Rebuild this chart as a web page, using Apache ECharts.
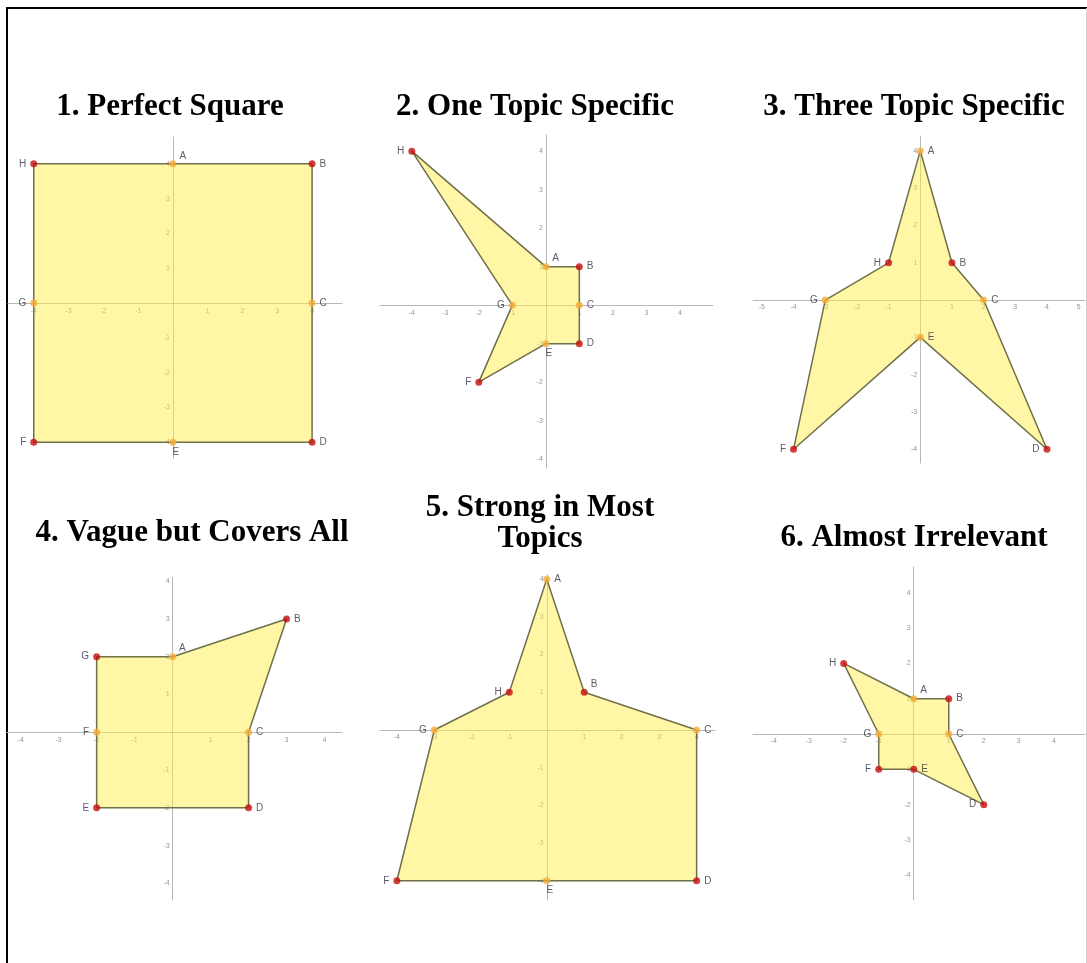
<!DOCTYPE html>
<html>
<head>
<meta charset="utf-8">
<script src="https://cdn.jsdelivr.net/npm/echarts@6/dist/echarts.min.js"></script>
<style>html,body{margin:0;padding:0;background:#fff;}#c{width:1087px;height:963px;}</style>
</head>
<body>
<div id="c"></div>
<script>
// ---------- DATA ----------
const titles = ['1. Perfect Square', '2. One Topic Specific', '3. Three Topic Specific',
  '4. Vague but Covers All', '5. Strong in Most\nTopics', '6. Almost Irrelevant'];

const names8 = ['A', 'B', 'C', 'D', 'E', 'F', 'G', 'H'];
const names7 = ['A', 'B', 'C', 'D', 'E', 'F', 'G'];

const p1X = [0, 4, 4, 4, 0, -4, -4, -4];
const p1Y = [4, 4, 0, -4, -4, -4, 0, 4];
const p1OnAxis = ['A', 'C', 'E', 'G'];

const p2X = [0, 1, 1, 1, 0, -2, -1, -4];
const p2Y = [1, 1, 0, -1, -1, -2, 0, 4];
const p2OnAxis = ['A', 'C', 'E', 'G'];

const p3X = [0, 1, 2, 4, 0, -4, -3, -1];
const p3Y = [4, 1, 0, -4, -1, -4, 0, 1];
const p3OnAxis = ['A', 'C', 'E', 'G'];

const p4X = [0, 3, 2, 2, -2, -2, -2];
const p4Y = [2, 3, 0, -2, -2, 0, 2];
const p4OnAxis = ['A', 'C', 'F'];

const p5X = [0, 1, 4, 4, 0, -4, -3, -1];
const p5Y = [4, 1, 0, -4, -4, -4, 0, 1];
const p5OnAxis = ['A', 'C', 'E', 'G'];

const p6X = [0, 1, 1, 2, 0, -1, -1, -2];
const p6Y = [1, 1, 0, -2, -1, -1, 0, 2];
const p6OnAxis = ['A', 'C', 'G'];

const xTicks4 = [-4, -3, -2, -1, 1, 2, 3, 4];
const xTicks5 = [-5, -4, -3, -2, -1, 1, 2, 3, 4, 5];
const yTicks4 = [-4, -3, -2, -1, 1, 2, 3, 4];

// visible axis ranges of each panel
const xRanges = [[-4.74, 4.86], [-4.95, 4.99], [-5.28, 5.20], [-4.36, 4.46], [-4.45, 4.49], [-4.59, 4.89]];
const yRanges = [[-4.45, 4.77], [-4.23, 4.42], [-4.37, 4.40], [-4.44, 4.11], [-4.51, 4.11], [-4.70, 4.73]];

// ---------- LAYOUT / STYLE ----------
const grids = [
  {left: 8, top: 137, width: 334, height: 321},
  {left: 380, top: 135, width: 333, height: 333},
  {left: 753, top: 136, width: 332, height: 327},
  {left: 7, top: 577, width: 335, height: 323},
  {left: 380, top: 575, width: 335, height: 325},
  {left: 753, top: 567, width: 332, height: 333}
].map(g => Object.assign(g, {containLabel: false, outerBoundsMode: 'none'}));
const titlePos = [[170, 107], [535, 107], [914, 107], [192, 533], [540, 523], [914, 538]];
const labelPos = [
  {A: 'ur', B: 'r', C: 'r', D: 'r', E: 'b', F: 'l', G: 'l', H: 'l'},
  {A: 'ur', B: 'r', C: 'r', D: 'r', E: 'b', F: 'l', G: 'l', H: 'l'},
  {A: 'r', B: 'r', C: 'r', D: 'l', E: 'r', F: 'l', G: 'l', H: 'l'},
  {A: 'ur', B: 'r', C: 'r', D: 'r', E: 'l', F: 'l', G: 'l'},
  {A: 'r', B: 'ur', C: 'r', D: 'r', E: 'b', F: 'l', G: 'l', H: 'l'},
  {A: 'ur', B: 'r', C: 'r', D: 'l', E: 'r', F: 'l', G: 'l', H: 'l'}
];

const panels = [
  {names: names8, xs: p1X, ys: p1Y, onAxis: p1OnAxis, xt: xTicks4},
  {names: names8, xs: p2X, ys: p2Y, onAxis: p2OnAxis, xt: xTicks5},
  {names: names8, xs: p3X, ys: p3Y, onAxis: p3OnAxis, xt: xTicks5},
  {names: names7, xs: p4X, ys: p4Y, onAxis: p4OnAxis, xt: xTicks4},
  {names: names8, xs: p5X, ys: p5Y, onAxis: p5OnAxis, xt: xTicks4},
  {names: names8, xs: p6X, ys: p6Y, onAxis: p6OnAxis, xt: xTicks4}
];

function labelFor(code) {
  const base = {show: true, fontSize: 10, color: '#333344', fontFamily: 'Liberation Sans'};
  if (code === 'r') return Object.assign(base, {position: 'right', distance: 4});
  if (code === 'l') return Object.assign(base, {position: 'left', distance: 4});
  if (code === 'ur') return Object.assign(base, {position: 'right', distance: 3, offset: [0, -8]});
  if (code === 'b') return Object.assign(base, {position: 'bottom', distance: 1, offset: [3, 0]});
  return base;
}

const tickLabelStyle = {show: true, fontSize: 7, color: '#7a7a7a', fontFamily: 'Liberation Sans'};

const xAxes = [], yAxes = [], series = [], graphics = [];
panels.forEach((p, i) => {
  const axisCommon = {
    type: 'value',
    gridIndex: i,
    axisLine: {show: true, onZero: true, lineStyle: {color: '#b8b8b8', width: 1}},
    axisTick: {show: false},
    axisLabel: {show: false},
    splitLine: {show: false}
  };
  xAxes.push(Object.assign({}, axisCommon, {min: xRanges[i][0], max: xRanges[i][1]}));
  yAxes.push(Object.assign({}, axisCommon, {min: yRanges[i][0], max: yRanges[i][1]}));

  // tick labels placed along the axes through the axis scales
  series.push({
    type: 'scatter',
    xAxisIndex: i, yAxisIndex: i,
    symbolSize: 0,
    silent: true,
    z: 1,
    data: p.xt.map(t => ({value: [t, 0], label: Object.assign({}, tickLabelStyle, {position: 'bottom', distance: 4, formatter: String(t)})}))
      .concat(yTicks4.map(t => ({value: [0, t], label: Object.assign({}, tickLabelStyle, {position: 'left', distance: 3, formatter: String(t)})})))
  });

  series.push({
    type: 'custom',
    xAxisIndex: i, yAxisIndex: i,
    data: p.xs.map((x, k) => [x, p.ys[k]]),
    z: 2,
    silent: true,
    renderItem: function (params, api) {
      if (params.dataIndex !== 0) return null;
      const pts = p.xs.map((x, k) => api.coord([x, p.ys[k]]));
      return {
        type: 'polygon',
        shape: {points: pts},
        style: {fill: 'rgba(255,236,70,0.48)', stroke: '#6f6f4a', lineWidth: 1.5, lineJoin: 'round'}
      };
    }
  });
  series.push({
    type: 'scatter',
    xAxisIndex: i, yAxisIndex: i,
    z: 3,
    symbolSize: 7,
    data: p.names.map((n, k) => ({
      value: [p.xs[k], p.ys[k]],
      name: n,
      itemStyle: {color: p.onAxis.indexOf(n) >= 0 ? '#f5ad38' : '#c80f0f'},
      label: Object.assign(labelFor(labelPos[i][n]), {formatter: n})
    }))
  });
  graphics.push({
    type: 'text',
    x: titlePos[i][0], y: titlePos[i][1],
    style: {
      text: titles[i],
      fontFamily: 'Liberation Serif',
      fontWeight: 'bold',
      fontSize: 31,
      lineHeight: 31,
      fill: '#000',
      textAlign: 'center',
      textVerticalAlign: 'middle'
    },
    z: 10
  });
});

// frame
graphics.push({type: 'line', shape: {x1: 7, y1: 8, x2: 7, y2: 963}, style: {stroke: '#000', lineWidth: 2}});
graphics.push({type: 'line', shape: {x1: 6, y1: 8, x2: 1087, y2: 8}, style: {stroke: '#000', lineWidth: 2}});
graphics.push({type: 'line', shape: {x1: 1086.5, y1: 8, x2: 1086.5, y2: 963}, style: {stroke: '#cfcfcf', lineWidth: 1}});

const chart = echarts.init(document.getElementById('c'), null, {renderer: 'canvas'});
chart.setOption({
  animation: false,
  backgroundColor: '#fff',
  grid: grids,
  xAxis: xAxes,
  yAxis: yAxes,
  series: series,
  graphic: graphics
});
</script>
</body>
</html>
